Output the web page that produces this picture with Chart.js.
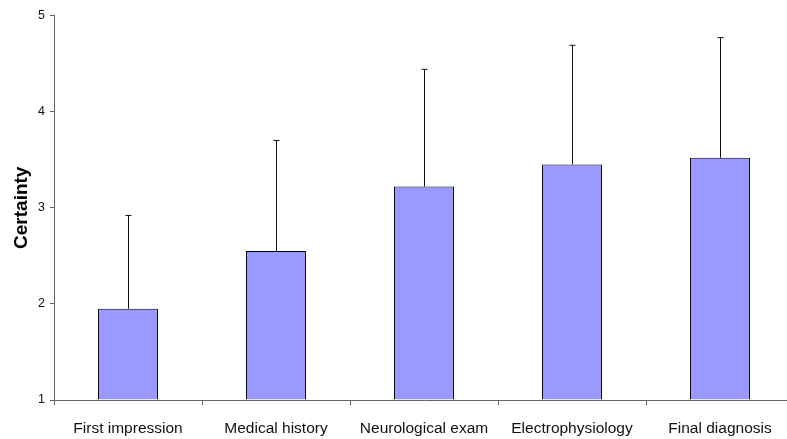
<!DOCTYPE html>
<html>
<head>
<meta charset="utf-8">
<script src="https://cdn.jsdelivr.net/npm/chart.js@4.4.1/dist/chart.umd.min.js"></script>
<style>
  html, body { margin: 0; padding: 0; background: #fff; overflow: hidden; }
  #wrap { width: 787px; height: 439px; overflow: hidden; position: relative; }
  #box { width: 794px; height: 439px; position: absolute; left: 0; top: 0; }
</style>
</head>
<body>
<div id="wrap"><div id="box"><canvas id="c"></canvas></div></div>
<script>
// Stages of the diagnostic process
const stages = ['First impression', 'Medical history', 'Neurological exam', 'Electrophysiology', 'Final diagnosis'];
// Mean certainty at each stage
const meanCertainty = [1.95, 2.55, 3.22, 3.45, 3.52];
// Standard deviation (drawn as upper whisker)
const sdCertainty = [0.97, 1.15, 1.22, 1.24, 1.25];
// Value axis ticks
const yTicks = [1, 2, 3, 4, 5];

const FONT = "'Liberation Sans', Arial, sans-serif";

// Upper error whiskers with a short cap
const whiskers = {
  id: 'whiskers',
  afterDatasetsDraw(chart) {
    const ctx = chart.ctx;
    const meta = chart.getDatasetMeta(0);
    const y = chart.scales.y;
    ctx.save();
    ctx.strokeStyle = '#111';
    ctx.lineWidth = 1;
    meta.data.forEach((bar, i) => {
      const x = Math.round(bar.x) + 0.5;
      const yTop = y.getPixelForValue(meanCertainty[i] + sdCertainty[i]);
      const yBase = y.getPixelForValue(meanCertainty[i]);
      ctx.beginPath();
      ctx.moveTo(x, yBase);
      ctx.lineTo(x, yTop);
      ctx.moveTo(x - 3, yTop);
      ctx.lineTo(x + 3, yTop);
      ctx.stroke();
    });
    ctx.restore();
  }
};

new Chart(document.getElementById('c'), {
  type: 'bar',
  data: {
    labels: stages,
    datasets: [{
      data: meanCertainty,
      base: 1,
      backgroundColor: '#9999FF',
      borderColor: '#000',
      borderWidth: 1,
      categoryPercentage: 0.405,
      barPercentage: 1
    }]
  },
  options: {
    responsive: true,
    maintainAspectRatio: false,
    animation: false,
    layout: { padding: { top: 15.5, left: 0, right: 0, bottom: 0 } },
    plugins: { legend: { display: false }, tooltip: { enabled: false } },
    scales: {
      x: {
        grid: {
          display: true,
          drawOnChartArea: false,
          drawTicks: true,
          tickLength: 5,
          color: '#666',
          offset: true
        },
        border: { display: true, color: '#666', width: 1 },
        ticks: {
          color: '#111',
          padding: 14,
          maxRotation: 0,
          autoSkip: false,
          font: { family: FONT, size: 15.5 }
        },
        afterFit(s) { s.height = 39; }
      },
      y: {
        min: 1,
        max: 5,
        afterBuildTicks(s) { s.ticks = yTicks.map(v => ({ value: v })); },
        grid: {
          display: true,
          drawOnChartArea: false,
          drawTicks: true,
          tickLength: 4,
          color: '#666'
        },
        border: { display: true, color: '#666', width: 1 },
        ticks: {
          color: '#111',
          padding: 5,
          font: { family: FONT, size: 12.5 }
        },
        title: {
          display: true,
          text: 'Certainty',
          color: '#000',
          padding: { top: 10, bottom: 0 },
          font: { family: FONT, size: 19, weight: 'bold', lineHeight: 1.2 }
        },
        afterFit(s) { s.width = 54; }
      }
    }
  },
  plugins: [whiskers]
});
</script>
</body>
</html>
